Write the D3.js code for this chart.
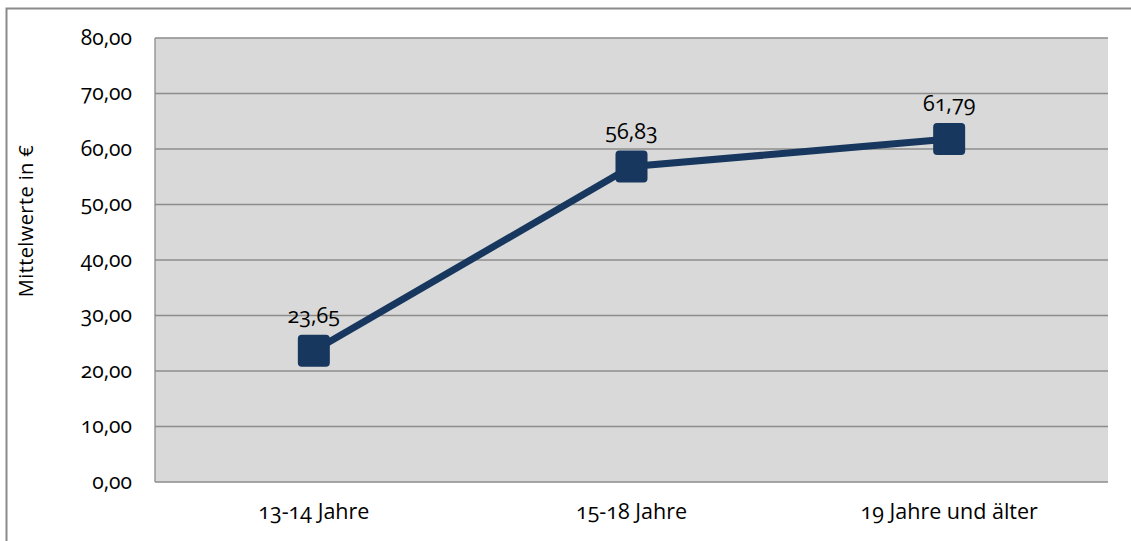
<!DOCTYPE html>
<html>
<head>
<meta charset="utf-8">
<script src="https://cdn.jsdelivr.net/npm/d3@7"></script>
<style>
  html, body { margin: 0; padding: 0; background: #fff; }
  svg text { font-family: "Open Sans", "Noto Sans", sans-serif; font-variant-numeric: oldstyle-nums; font-feature-settings: "onum"; fill: #000; }
</style>
</head>
<body>
<svg id="chart" width="1131" height="541"></svg>
<script>
// Mean spending per age group
const categories = ["13-14 Jahre", "15-18 Jahre", "19 Jahre und älter"];
const values = [23.65, 56.83, 61.79];
const yTicks = [0, 10, 20, 30, 40, 50, 60, 70, 80];
const yLabel = "Mittelwerte in €";

const fmt = v => v.toFixed(2).replace(".", ",");

const svg = d3.select("#chart");
const plot = { left: 155, right: 1108, top: 38, bottom: 482 };

// outer frame
svg.append("rect")
  .attr("x", 6.5).attr("y", 8.5)
  .attr("width", 1131).attr("height", 540)
  .attr("fill", "none").attr("stroke", "#8a8a8a").attr("stroke-width", 2);

const x = d3.scaleBand().domain(categories).range([plot.left, plot.right]).padding(0);
const y = d3.scaleLinear().domain([0, 80]).range([plot.bottom, plot.top]);

// plot background
svg.append("rect")
  .attr("x", plot.left).attr("y", plot.top)
  .attr("width", plot.right - plot.left).attr("height", plot.bottom - plot.top)
  .attr("fill", "#d9d9d9");

// gridlines
svg.append("g").selectAll("line").data(yTicks).join("line")
  .attr("x1", plot.left).attr("x2", plot.right)
  .attr("y1", d => y(d)).attr("y2", d => y(d))
  .attr("stroke", "#8c8c8c").attr("stroke-width", 1.3);

// left border of plot area
svg.append("line")
  .attr("x1", plot.left).attr("x2", plot.left)
  .attr("y1", plot.top).attr("y2", plot.bottom)
  .attr("stroke", "#8c8c8c").attr("stroke-width", 1.3);

// y axis tick labels
const yAxis = d3.axisLeft(y).tickValues(yTicks).tickFormat(fmt).tickSize(0).tickPadding(23);
const gy = svg.append("g").attr("transform", `translate(${plot.left},0)`).call(yAxis);
gy.select(".domain").remove();
gy.attr("font-size", null).attr("font-family", null);
gy.selectAll("text").style("font-size", "21px").attr("dy", "0.3em");

// x axis labels
const xAxis = d3.axisBottom(x).tickSize(0).tickPadding(22);
const gx = svg.append("g").attr("transform", `translate(0,${plot.bottom})`).call(xAxis);
gx.select(".domain").remove();
gx.attr("font-size", null).attr("font-family", null);
gx.selectAll("text").style("font-size", "21.5px");

// y axis title
svg.append("text")
  .attr("transform", `translate(33,${(plot.top + plot.bottom) / 2 - 39}) rotate(-90)`)
  .attr("text-anchor", "middle")
  .style("font-size", "20px")
  .style("letter-spacing", "0.4px")
  .text(yLabel);

const cx = d => x(d) + x.bandwidth() / 2;
const pts = categories.map((c, i) => [cx(c), y(values[i])]);

// series line
svg.append("path")
  .attr("d", d3.line()(pts))
  .attr("fill", "none").attr("stroke", "#17375e").attr("stroke-width", 7)
  .attr("stroke-linejoin", "round");

// markers
const ms = 32;
svg.append("g").selectAll("rect").data(pts).join("rect")
  .attr("x", d => d[0] - ms / 2).attr("y", d => d[1] - ms / 2)
  .attr("width", ms).attr("height", ms).attr("rx", 4)
  .attr("fill", "#17375e");

// value labels
svg.append("g").selectAll("text").data(values).join("text")
  .attr("x", (d, i) => pts[i][0])
  .attr("y", (d, i) => pts[i][1] - 28)
  .attr("text-anchor", "middle")
  .style("font-size", "21.5px")
  .text(fmt);
</script>
</body>
</html>
